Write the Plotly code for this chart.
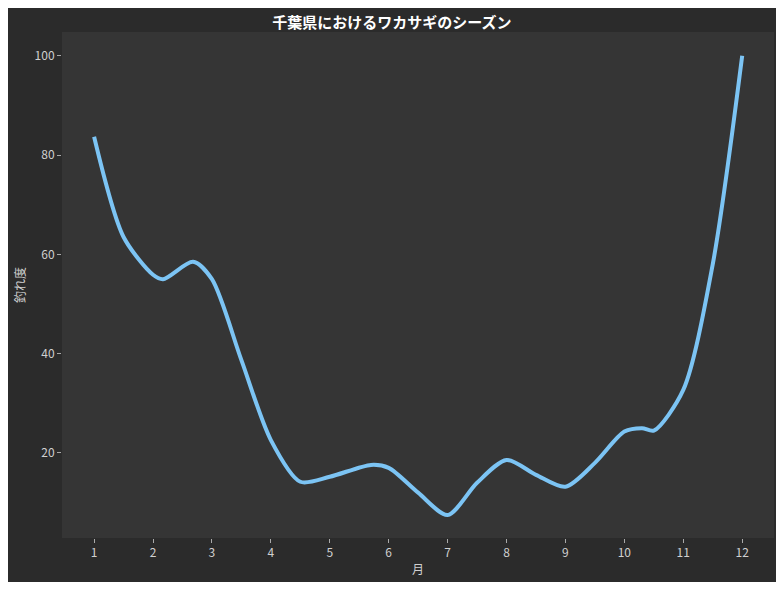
import plotly.graph_objects as go

# 月 (half-month resolution)
months = [1, 1.5, 2, 2.17, 2.68, 3, 3.5, 4, 4.5, 5, 5.7, 6, 6.5, 7, 7.5, 8,
          8.5, 9, 9.5, 10, 10.3, 10.5, 11, 11.5, 12]
score = [83.7, 63.5, 55.9, 55, 58.5, 55, 38.7, 22.6, 14.2, 15.2, 17.6, 17, 12,
         7.5, 14, 18.6, 15.6, 13.2, 18, 24.3, 25, 24.5, 32.7, 58, 100]
tick_vals = list(range(1, 13))

font = "Noto Sans CJK JP"

fig = go.Figure()
fig.add_trace(go.Scatter(
    x=months, y=score, mode="lines",
    line=dict(color="#7cc4f4", width=4, shape="spline", smoothing=0.8),
))

fig.update_layout(
    width=768, height=574,
    paper_bgcolor="#2b2b2b", plot_bgcolor="#353535",
    margin=dict(l=54, r=2, t=24, b=44),
    showlegend=False,
    font=dict(family=font, color="#d0d0d0", size=12),
    title=dict(text="<b>千葉県におけるワカサギのシーズン</b>", x=0.5, y=0.984,
               xanchor="center", font=dict(size=15, color="#ffffff")),
    xaxis=dict(title=dict(text="月", font=dict(size=12), standoff=6),
               range=[0.455, 12.54], tickvals=tick_vals, showgrid=False,
               zeroline=False, ticks="outside", ticklen=4, tickcolor="#aaaaaa"),
    yaxis=dict(title=dict(text="釣れ度", font=dict(size=12), standoff=6),
               range=[2.87, 104.8], tickvals=[20, 40, 60, 80, 100],
               showgrid=False, zeroline=False, ticks="outside", ticklen=4,
               tickcolor="#aaaaaa"),
)

fig.write_html("out.html")
